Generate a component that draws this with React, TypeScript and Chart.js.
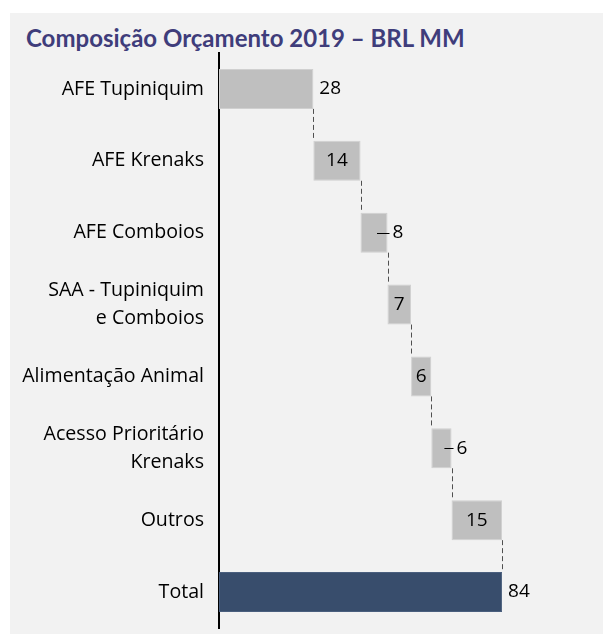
import React, { useEffect, useRef } from "react";
import { Chart, registerables } from "chart.js";

Chart.register(...registerables);

const titleText = "Composição Orçamento 2019 – BRL MM";
const categories: string[][] = [
  ["AFE Tupiniquim"],
  ["AFE Krenaks"],
  ["AFE Comboios"],
  ["SAA - Tupiniquim", "e Comboios"],
  ["Alimentação Animal"],
  ["Acesso Prioritário", "Krenaks"],
  ["Outros"],
  ["Total"],
];
const values = [28, 14, 8, 7, 6, 6, 15, 84];
const isTotal = [false, false, false, false, false, false, false, true];
const xMax = 100;

// label placement style per bar
const labelMode = ["right", "center", "leader", "center", "center", "leader", "center", "right"];

const FONT = "'Open Sans', Lato, sans-serif";
const TITLE_FONT = "Lato, 'Open Sans', sans-serif";

export default function App() {
  const ref = useRef<HTMLCanvasElement | null>(null);

  useEffect(() => {
    const canvas = ref.current;
    if (!canvas) return;
    let acc = 0;
    const ranges = values.map((v, i) => {
      if (isTotal[i]) return [0, v];
      const r = [acc, acc + v];
      acc += v;
      return r;
    });

    const overlay = {
      id: "wfOverlay",
      afterDatasetsDraw(chart: any) {
        const ctx = chart.ctx as CanvasRenderingContext2D;
        const meta = chart.getDatasetMeta(0);
        const bars = meta.data.map((b: any) => b.getProps(["x", "y", "base", "height"], true));
        ctx.save();
        // connectors
        ctx.strokeStyle = "#505050";
        ctx.lineWidth = 1;
        ctx.setLineDash([5, 3]);
        for (let i = 0; i < bars.length - 1; i++) {
          const a = bars[i];
          const b = bars[i + 1];
          const x = Math.round(a.x) + 0.5;
          ctx.beginPath();
          ctx.moveTo(x, a.y + a.height / 2);
          ctx.lineTo(x, b.y - b.height / 2);
          ctx.stroke();
        }
        ctx.setLineDash([]);
        // labels
        ctx.font = `19px ${FONT}`;
        ctx.fillStyle = "#000";
        ctx.textBaseline = "middle";
        bars.forEach((b: any, i: number) => {
          const txt = String(values[i]);
          const mode = labelMode[i];
          const end = Math.max(b.x, b.base);
          const start = Math.min(b.x, b.base);
          if (mode === "center") {
            ctx.textAlign = "center";
            ctx.fillText(txt, (start + end) / 2, b.y);
          } else if (mode === "right") {
            ctx.textAlign = "left";
            ctx.fillText(txt, end + 6, b.y);
          } else {
            ctx.strokeStyle = "#000";
            ctx.lineWidth = 1;
            ctx.beginPath();
            ctx.moveTo((start + end) / 2 + 3, Math.round(b.y) + 0.5);
            ctx.lineTo(end + 2, Math.round(b.y) + 0.5);
            ctx.stroke();
            ctx.textAlign = "left";
            ctx.fillText(txt, end + 5, b.y);
          }
        });
        ctx.restore();
      },
    };

    const chart = new Chart(canvas, {
      type: "bar",
      data: {
        labels: categories,
        datasets: [
          {
            data: ranges as any,
            backgroundColor: isTotal.map((t) => (t ? "#384d6c" : "#bfbfbf")),
            borderColor: isTotal.map((t) => (t ? "#4a5f7e" : "#d0d0d0")),
            borderWidth: 1,
            borderSkipped: false,
            categoryPercentage: 1,
            barPercentage: 0.556,
          },
        ],
      },
      options: {
        indexAxis: "y",
        animation: false,
        responsive: false,
        maintainAspectRatio: false,
        layout: { padding: { left: 0, right: 47, top: 53, bottom: 6 } },
        plugins: { legend: { display: false }, tooltip: { enabled: false }, title: { display: false } },
        scales: {
          x: { display: false, min: 0, max: xMax },
          y: {
            grid: { display: false, drawTicks: false },
            border: { display: true, color: "#000", width: 2 },
            ticks: {
              color: "#000",
              padding: 15,
              font: { family: FONT, size: 19.6, lineHeight: 1.43 },
            },
            afterFit(scale: any) {
              scale.width = 219;
              scale.paddingTop = 0;
              scale.paddingBottom = 0;
            },
          },
        },
      },
      plugins: [overlay],
    });
    return () => chart.destroy();
  }, []);

  return (
    <div style={{ position: "fixed", left: 0, top: 0, right: 0, bottom: 0, minWidth: 603, minHeight: 634, background: "#fff", overflow: "hidden" }}>
      <div style={{ position: "absolute", left: 10, top: 13, right: -20, bottom: -20, background: "#f2f2f2" }} />
      <div
        style={{
          position: "absolute",
          left: 26,
          top: 23,
          fontFamily: TITLE_FONT,
          fontWeight: 700,
          fontSize: 24,
          color: "#3f3d7b",
          whiteSpace: "nowrap",
        }}
      >
        {titleText}
      </div>
      <canvas ref={ref} width={603} height={634} style={{ position: "absolute", left: 0, top: 0, width: 603, height: 634 }} />
    </div>
  );
}
